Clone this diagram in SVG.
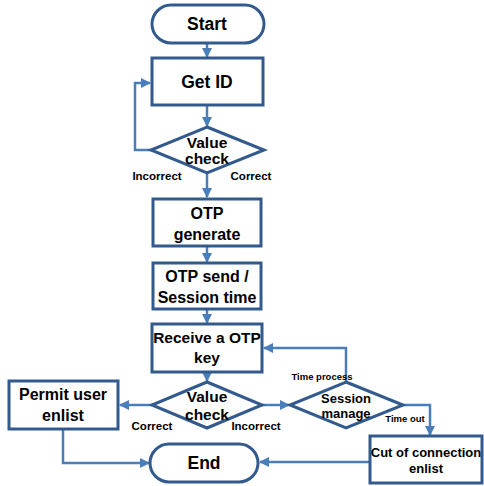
<svg xmlns="http://www.w3.org/2000/svg" width="484" height="486" viewBox="0 0 484 486">
<style>
.n{fill:#fff;stroke:#325a8c;stroke-width:3}
.t{font-family:"Liberation Sans",Arial,sans-serif;font-weight:bold;fill:#000;text-anchor:middle}
.h{font-size:17.5px}
.b{font-size:16px}
.d{font-size:15.5px}
.l{font-size:11.5px}
.m{font-size:13px}
.s{font-size:9.5px}
.c{fill:none;stroke:#4a7ebb;stroke-width:2.5}
</style>
<defs>
<marker id="a" viewBox="0 0 10 10" refX="9" refY="5" markerWidth="4" markerHeight="4" orient="auto" markerUnits="strokeWidth">
<path d="M0,0 L10,5 L0,10 z" fill="#4a7ebb"/>
</marker>
</defs>
<rect width="484" height="486" fill="#fff"/>
<g id="connectors">
<path class="c" d="M207,43 V57" marker-end="url(#a)"/>
<path class="c" d="M207,106 V126" marker-end="url(#a)"/>
<path class="c" d="M151,150 H135 V83 H150" marker-end="url(#a)"/>
<path class="c" d="M207,173 V197" marker-end="url(#a)"/>
<path class="c" d="M207,246 V262" marker-end="url(#a)"/>
<path class="c" d="M207,309 V323" marker-end="url(#a)"/>
<path class="c" d="M207,372 V381" marker-end="url(#a)"/>
<path class="c" d="M152,405 H120" marker-end="url(#a)"/>
<path class="c" d="M262,405 H289" marker-end="url(#a)"/>
<path class="c" d="M346,382 V348 H264" marker-end="url(#a)"/>
<path class="c" d="M403,405 H430 V435" marker-end="url(#a)"/>
<path class="c" d="M63,429 V463 H149" marker-end="url(#a)"/>
<path class="c" d="M370,462 H260" marker-end="url(#a)"/>
</g>
<g id="start">
<rect class="n" x="152" y="5" width="112" height="38" rx="19"/>
<text class="t h" x="207" y="30">Start</text>
</g>
<g id="get-id">
<rect class="n" x="152" y="58" width="111" height="47"/>
<text class="t h" x="207" y="88">Get ID</text>
</g>
<g id="value-check-1">
<polygon class="n" points="207,127 264,150 207,173 151,150"/>
<text class="t d" x="207" y="148">Value</text>
<text class="t d" x="207" y="164">check</text>
</g>
<text class="t l" x="157" y="180">Incorrect</text>
<text class="t l" x="251" y="180">Correct</text>
<g id="otp-generate">
<rect class="n" x="153" y="199" width="108" height="47"/>
<text class="t b" x="207" y="219">OTP</text>
<text class="t b" x="207" y="240">generate</text>
</g>
<g id="otp-send">
<rect class="n" x="153" y="263" width="108" height="46"/>
<text class="t b" x="207" y="282">OTP send /</text>
<text class="t b" x="207" y="303">Session time</text>
</g>
<g id="receive-otp">
<rect class="n" x="152" y="324" width="110" height="48"/>
<text class="t d" x="207" y="343">Receive a OTP</text>
<text class="t d" x="207" y="363">key</text>
</g>
<g id="value-check-2">
<polygon class="n" points="207,382 262,405 207,428 152,405"/>
<text class="t d" x="207" y="402">Value</text>
<text class="t d" x="207" y="420">check</text>
</g>
<text class="t l" x="152" y="430">Correct</text>
<text class="t l" x="256" y="430">Incorrect</text>
<g id="permit">
<rect class="n" x="9" y="381" width="109" height="48"/>
<text class="t b" x="63" y="400">Permit user</text>
<text class="t b" x="63" y="421">enlist</text>
</g>
<g id="session">
<polygon class="n" points="346,382 403,405 346,428 290,405"/>
<text class="t m" x="346" y="403">Session</text>
<text class="t m" x="346" y="418">manage</text>
</g>
<text class="t s" x="322" y="380">Time process</text>
<text class="t s" x="405" y="422">Time out</text>
<g id="cut">
<rect class="n" x="370" y="436" width="112" height="47"/>
<text class="t m" x="426" y="457">Cut of connection</text>
<text class="t m" x="426" y="473">enlist</text>
</g>
<g id="end">
<rect class="n" x="150" y="444" width="108" height="38" rx="19"/>
<text class="t h" x="204" y="469">End</text>
</g>
</svg>
